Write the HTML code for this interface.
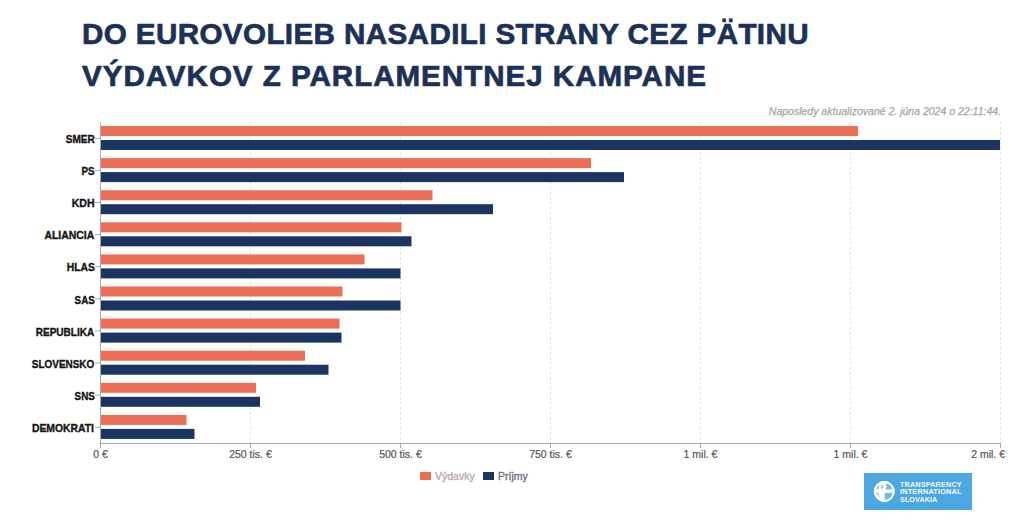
<!DOCTYPE html>
<html><head><meta charset="utf-8">
<style>
html,body{margin:0;padding:0;background:#fff;width:1024px;height:525px;overflow:hidden;}
body{position:relative;font-family:"Liberation Sans",sans-serif;}
.t{position:absolute;left:82px;margin:0;font-size:29.6px;line-height:34px;font-weight:bold;color:#1C3157;white-space:nowrap;-webkit-text-stroke:0.7px #1C3157;}
#l1{top:17px;letter-spacing:0.39px;}
#l2{top:58.6px;letter-spacing:0.96px;}
.upd{position:absolute;right:23px;top:104.5px;font-size:10.5px;font-style:italic;color:#a6a6a6;-webkit-text-stroke:0.25px #a6a6a6;white-space:nowrap;}
svg{position:absolute;left:0;top:0;}
.cat{font-size:10.2px;font-weight:bold;fill:#151515;stroke:#151515;stroke-width:0.35px;font-family:"Liberation Sans",sans-serif;}
.tick{font-size:10.5px;fill:#555;stroke:#555;stroke-width:0.2px;font-family:"Liberation Sans",sans-serif;}
.sq{position:absolute;top:471.5px;width:11px;height:8.5px;}
.lt{position:absolute;top:470px;-webkit-text-stroke:0.3px currentColor;font-size:10.5px;white-space:nowrap;}
.logo{position:absolute;left:864px;top:473px;width:108px;height:37px;background:#4DA8E2;}
.lg{position:absolute;left:36px;color:#f4faff;font-weight:bold;font-size:8px;line-height:8px;letter-spacing:0.15px;white-space:nowrap;transform-origin:0 0;}
</style></head><body>
<div class="t" id="l1">DO EUROVOLIEB NASADILI STRANY CEZ PÄTINU</div>
<div class="t" id="l2">VÝDAVKOV Z PARLAMENTNEJ KAMPANE</div>
<div class="upd" id="upd">Naposledy aktualizované 2. júna 2024 o 22:11:44.</div>
<svg width="1024" height="525" viewBox="0 0 1024 525">
<line x1="250.5" y1="122" x2="250.5" y2="443" stroke="#e0e0e0" stroke-width="1" stroke-dasharray="2.5,2.5"/>
<line x1="400.5" y1="122" x2="400.5" y2="443" stroke="#e0e0e0" stroke-width="1" stroke-dasharray="2.5,2.5"/>
<line x1="550.5" y1="122" x2="550.5" y2="443" stroke="#e0e0e0" stroke-width="1" stroke-dasharray="2.5,2.5"/>
<line x1="700.5" y1="122" x2="700.5" y2="443" stroke="#e0e0e0" stroke-width="1" stroke-dasharray="2.5,2.5"/>
<line x1="850.5" y1="122" x2="850.5" y2="443" stroke="#e0e0e0" stroke-width="1" stroke-dasharray="2.5,2.5"/>
<line x1="1000.5" y1="122" x2="1000.5" y2="443" stroke="#e0e0e0" stroke-width="1" stroke-dasharray="2.5,2.5"/>
<rect x="101" y="126.00" width="757.00" height="10" fill="#EC6F55"/>
<rect x="101" y="140.00" width="899.00" height="10" fill="#1C3461"/>
<line x1="95" y1="138.30" x2="100" y2="138.30" stroke="#aaa" stroke-width="1"/>
<text x="65.70" y="142.70" textLength="29.00" lengthAdjust="spacingAndGlyphs" class="cat">SMER</text>
<rect x="101" y="158.10" width="490.00" height="10" fill="#EC6F55"/>
<rect x="101" y="172.10" width="523.00" height="10" fill="#1C3461"/>
<line x1="95" y1="170.40" x2="100" y2="170.40" stroke="#aaa" stroke-width="1"/>
<text x="81.40" y="174.87" textLength="13.10" lengthAdjust="spacingAndGlyphs" class="cat">PS</text>
<rect x="101" y="190.20" width="331.50" height="10" fill="#EC6F55"/>
<rect x="101" y="204.20" width="392.00" height="10" fill="#1C3461"/>
<line x1="95" y1="202.50" x2="100" y2="202.50" stroke="#aaa" stroke-width="1"/>
<text x="71.70" y="207.04" textLength="22.80" lengthAdjust="spacingAndGlyphs" class="cat">KDH</text>
<rect x="101" y="222.30" width="300.50" height="10" fill="#EC6F55"/>
<rect x="101" y="236.30" width="310.50" height="10" fill="#1C3461"/>
<line x1="95" y1="234.60" x2="100" y2="234.60" stroke="#aaa" stroke-width="1"/>
<text x="44.40" y="239.21" textLength="49.80" lengthAdjust="spacingAndGlyphs" class="cat">ALIANCIA</text>
<rect x="101" y="254.40" width="263.50" height="10" fill="#EC6F55"/>
<rect x="101" y="268.40" width="299.50" height="10" fill="#1C3461"/>
<line x1="95" y1="266.70" x2="100" y2="266.70" stroke="#aaa" stroke-width="1"/>
<text x="66.70" y="271.38" textLength="28.10" lengthAdjust="spacingAndGlyphs" class="cat">HLAS</text>
<rect x="101" y="286.50" width="241.50" height="10" fill="#EC6F55"/>
<rect x="101" y="300.50" width="299.50" height="10" fill="#1C3461"/>
<line x1="95" y1="298.80" x2="100" y2="298.80" stroke="#aaa" stroke-width="1"/>
<text x="74.60" y="303.55" textLength="20.30" lengthAdjust="spacingAndGlyphs" class="cat">SAS</text>
<rect x="101" y="318.60" width="238.50" height="10" fill="#EC6F55"/>
<rect x="101" y="332.60" width="240.50" height="10" fill="#1C3461"/>
<line x1="95" y1="330.90" x2="100" y2="330.90" stroke="#aaa" stroke-width="1"/>
<text x="35.70" y="335.72" textLength="58.60" lengthAdjust="spacingAndGlyphs" class="cat">REPUBLIKA</text>
<rect x="101" y="350.70" width="204.00" height="10" fill="#EC6F55"/>
<rect x="101" y="364.70" width="227.50" height="10" fill="#1C3461"/>
<line x1="95" y1="363.00" x2="100" y2="363.00" stroke="#aaa" stroke-width="1"/>
<text x="31.80" y="367.89" textLength="62.50" lengthAdjust="spacingAndGlyphs" class="cat">SLOVENSKO</text>
<rect x="101" y="382.80" width="155.00" height="10" fill="#EC6F55"/>
<rect x="101" y="396.80" width="159.00" height="10" fill="#1C3461"/>
<line x1="95" y1="395.10" x2="100" y2="395.10" stroke="#aaa" stroke-width="1"/>
<text x="74.60" y="400.06" textLength="20.30" lengthAdjust="spacingAndGlyphs" class="cat">SNS</text>
<rect x="101" y="414.90" width="85.50" height="10" fill="#EC6F55"/>
<rect x="101" y="428.90" width="93.50" height="10" fill="#1C3461"/>
<line x1="95" y1="427.20" x2="100" y2="427.20" stroke="#aaa" stroke-width="1"/>
<text x="31.90" y="432.23" textLength="62.00" lengthAdjust="spacingAndGlyphs" class="cat">DEMOKRATI</text>
<line x1="100.5" y1="122" x2="100.5" y2="444" stroke="#a8a8a8" stroke-width="1"/>
<line x1="100" y1="443.5" x2="1001" y2="443.5" stroke="#a8a8a8" stroke-width="1"/>
<line x1="100.5" y1="443" x2="100.5" y2="448" stroke="#a8a8a8" stroke-width="1"/>
<text x="100.5" y="458" text-anchor="middle" class="tick">0 €</text>
<line x1="250.5" y1="443" x2="250.5" y2="448" stroke="#a8a8a8" stroke-width="1"/>
<text x="250.5" y="458" text-anchor="middle" class="tick">250 tis. €</text>
<line x1="400.5" y1="443" x2="400.5" y2="448" stroke="#a8a8a8" stroke-width="1"/>
<text x="400.5" y="458" text-anchor="middle" class="tick">500 tis. €</text>
<line x1="550.5" y1="443" x2="550.5" y2="448" stroke="#a8a8a8" stroke-width="1"/>
<text x="550.5" y="458" text-anchor="middle" class="tick">750 tis. €</text>
<line x1="700.5" y1="443" x2="700.5" y2="448" stroke="#a8a8a8" stroke-width="1"/>
<text x="700.5" y="458" text-anchor="middle" class="tick">1 mil. €</text>
<line x1="850.5" y1="443" x2="850.5" y2="448" stroke="#a8a8a8" stroke-width="1"/>
<text x="850.5" y="458" text-anchor="middle" class="tick">1 mil. €</text>
<line x1="1000.5" y1="443" x2="1000.5" y2="448" stroke="#a8a8a8" stroke-width="1"/>
<text x="1005" y="458" text-anchor="end" class="tick">2 mil. €</text>
</svg>
<div class="sq" style="left:420px;background:#EC6F55"></div>
<div class="lt" style="left:435px;color:#b8a5a2">Výdavky</div>
<div class="sq" style="left:483px;background:#1C3461"></div>
<div class="lt" style="left:498px;color:#676c7e">Príjmy</div>
<div class="logo">
<svg width="37" height="37" viewBox="0 0 37 37" style="position:absolute;left:0;top:0">
<g>
<circle cx="20.3" cy="18.5" r="10.4" fill="#fff"/>
<path d="M21.8 11 Q25.2 10 27.9 12.8 Q28.9 14.4 28.7 16 Q24.5 16.8 21.4 16.2 Q22.9 15 22.5 13.3 Q22.3 11.9 21.8 11Z" fill="#6fb8e8"/>
<ellipse cx="17.9" cy="14" rx="1" ry="2.1" fill="#86c3ea"/>
<path d="M12.6 13.4 Q13.9 11.5 15.5 10.9 Q14.9 13.5 14.8 16 L12.2 16 Q12.2 14.6 12.6 13.4Z" fill="#86c3ea"/>
<path d="M12.3 19.8 L14.6 19.8 Q14.8 22 15.6 24.2 Q13.1 22.4 12.3 19.8Z" fill="#94caec"/>
<path d="M20.4 20.3 Q24.6 20 28.5 19.4 Q28.2 23.5 24.6 26.2 Q22.3 27.3 20.8 27.3 Q21 23.6 20.4 20.3Z" fill="#6fb8e8"/>
<circle cx="20.3" cy="18.5" r="9.5" fill="none" stroke="#fff" stroke-width="1.8"/>
</g>
</svg>
<div class="lg" id="lg1" style="top:7.9px;transform:scaleX(0.91)">TRANSPARENCY</div>
<div class="lg" id="lg2" style="top:15.4px;transform:scaleX(0.925)">INTERNATIONAL</div>
<div class="lg" id="lg3" style="top:22.9px;transform:scaleX(0.89)">SLOVAKIA</div>
</div>
</body></html>
